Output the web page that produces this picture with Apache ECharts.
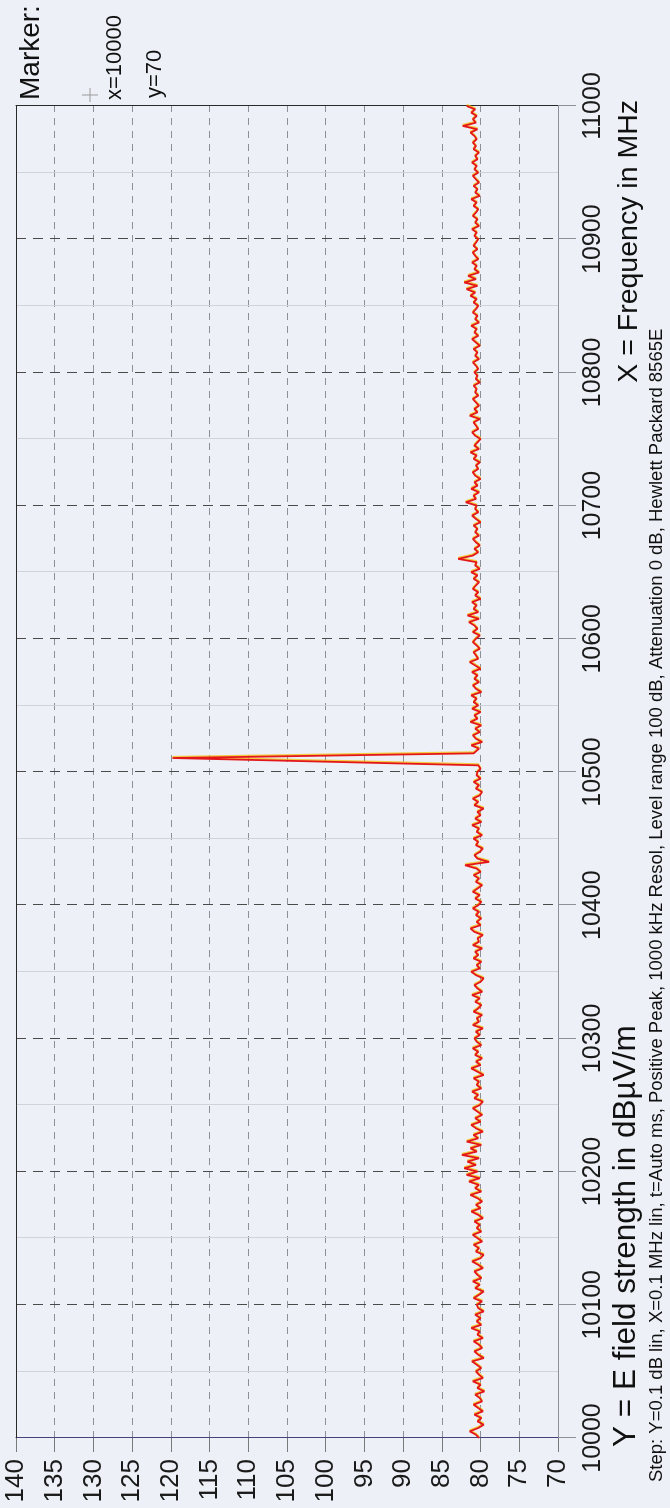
<!DOCTYPE html>
<html>
<head>
<meta charset="utf-8">
<script src="https://cdn.jsdelivr.net/npm/echarts/dist/echarts.min.js"></script>
<style>
  html, body { margin: 0; padding: 0; background: #edf0f6; overflow: hidden; }
  #page { position: absolute; left: 0; top: 0; width: 670px; height: 1508px; overflow: hidden; background: #edf0f6; }
  /* the plot is laid out landscape (1508 x 670) and turned a quarter turn anticlockwise */
  #chart { position: absolute; left: 0; top: 0; width: 1508px; height: 670px;
           transform-origin: 0 0; transform: translate(0, 1508px) rotate(-90deg); }
</style>
</head>
<body>
<div id="page"><div id="chart"></div></div>
<script>
// Sweep settings (MHz)
const sweepStart = 10000;
const sweepStep = 2.5;

// Field strength per sweep point, dBµV/m (one row per 50 MHz)
const levelDb = [
  80.2, 80.6, 81.4, 80.3, 79.6, 80.4, 79.9, 80.8, 79.7, 80.3, 80.9, 79.8, 80.1, 80.7, 79.5, 80.4, 80.0, 81.0, 79.7, 80.2,
  80.6, 79.9, 80.5, 81.1, 79.6, 80.3, 80.8, 79.8, 80.2, 80.9, 79.7, 80.4, 80.1, 81.2, 79.9, 80.5, 80.0, 80.7, 79.6, 80.3,
  80.5, 79.8, 80.9, 80.2, 79.6, 80.7, 80.1, 81.0, 79.9, 80.4, 80.8, 79.7, 80.3, 81.1, 80.0, 79.6, 80.6, 80.2, 80.9, 79.8,
  80.4, 81.0, 79.9, 80.5, 80.1, 80.8, 79.7, 80.3, 81.2, 80.0, 80.6, 79.8, 80.4, 81.3, 79.9, 80.7, 80.2, 81.5, 80.1, 81.8,
  80.4, 82.1, 80.6, 81.7, 80.2, 82.4, 80.5, 81.3, 79.9, 81.8, 80.3, 80.9, 79.7, 80.6, 81.2, 80.0, 80.7, 79.8, 80.4, 81.0,
  80.1, 79.7, 80.8, 80.3, 81.1, 79.9, 80.5, 80.2, 80.9, 79.6, 80.4, 81.2, 80.0, 80.6, 79.8, 80.7, 80.3, 81.0, 79.9, 80.5,
  80.8, 80.1, 80.6, 79.7, 81.0, 80.2, 80.5, 79.8, 80.9, 80.3, 79.9, 80.7, 80.1, 81.1, 79.8, 80.4, 80.8, 80.0, 79.6, 80.6,
  81.2, 80.1, 80.5, 79.9, 80.9, 80.3, 80.7, 79.8, 81.0, 80.2, 80.4, 79.7, 80.8, 81.3, 80.0, 80.5, 79.9, 80.6, 80.2, 81.0,
  80.3, 79.9, 80.7, 80.1, 81.0, 80.4, 79.8, 80.6, 80.2, 80.9, 80.0, 80.5, 82.0, 78.9, 80.4, 80.8, 80.1, 79.7, 80.6, 80.3,
  80.9, 79.8, 80.5, 80.2, 81.1, 79.9, 80.7, 80.0, 80.4, 79.6, 80.8, 80.3, 81.0, 80.1, 79.8, 80.6, 80.2, 80.9, 80.0, 80.5,
  80.4, 80.0, 80.3, null, null, null, 80.9, 80.2, 81.2, 79.8, 80.6, 81.0, 80.1, 80.7, 79.9, 81.3, 80.4, 80.8, 80.0, 81.1,
  80.3, 80.9, 80.5, 81.2, 79.9, 80.6, 81.0, 80.2, 80.8, 80.4, 81.1, 80.0, 80.7, 81.4, 80.3, 80.6, 80.9, 80.1, 80.5, 81.0,
  80.6, 80.1, 81.0, 80.4, 80.8, 81.5, 80.2, 81.7, 80.3, 80.9, 80.5, 81.1, 80.0, 80.7, 80.3, 81.0, 80.6, 80.2, 80.9, 80.4,
  81.2, 80.1, 80.7, 80.5, 82.9, 81.0, 80.3, 80.8, 80.1, 80.6, 81.0, 80.2, 80.7, 80.4, 80.9, 80.0, 80.6, 81.1, 80.3, 80.7,
  80.5, 81.9, 80.6, 80.9, 80.2, 81.2, 80.4, 80.8, 80.0, 80.7, 81.0, 80.3, 80.6, 80.1, 80.9, 80.5, 81.3, 80.2, 80.8, 80.4,
  80.0, 80.7, 81.1, 80.3, 80.6, 80.9, 80.1, 81.4, 80.4, 80.8, 80.2, 80.6, 81.0, 80.3, 80.7, 80.5, 80.9, 80.1, 80.6, 80.4,
  80.8, 80.3, 80.6, 81.0, 80.2, 80.7, 80.4, 80.9, 80.1, 80.6, 81.1, 80.3, 80.8, 80.5, 81.2, 80.2, 80.7, 80.4, 81.0, 80.6,
  80.3, 80.9, 80.5, 81.3, 80.7, 81.8, 80.4, 82.1, 80.6, 81.6, 80.2, 80.8, 80.5, 81.1, 80.3, 80.7, 81.0, 80.4, 80.9, 80.6,
  80.3, 80.8, 80.5, 81.1, 80.2, 80.7, 80.4, 81.0, 80.6, 80.3, 80.9, 80.5, 81.2, 80.1, 80.7, 80.4, 80.9, 80.2, 80.6, 81.0,
  80.3, 80.8, 80.5, 81.1, 80.4, 80.7, 80.2, 80.9, 80.6, 81.0, 80.5, 80.8, 81.3, 80.4, 82.3, 80.6, 81.0, 80.5, 81.2, 80.7,
  81.8
];

// Carrier found near 10.51 GHz
const peakFreqMHz = [10506.5, 10510.5, 10514.0];
const peakLevelDb = [80.2, 119.8, 80.9];

// Axis ticks
const freqTicks = [10000, 10100, 10200, 10300, 10400, 10500, 10600, 10700, 10800, 10900, 11000];
const levelTicks = [70, 75, 80, 85, 90, 95, 100, 105, 110, 115, 120, 125, 130, 135, 140];

// Marker read-out and captions
const markerLines = ['Marker:', 'x=10000', 'y=70'];
const yCaption = 'Y = E field strength in dBµV/m';
const xCaption = 'X = Frequency in MHz';
const stepCaption = 'Step: Y=0.1 dB lin, X=0.1 MHz lin, t=Auto ms, Positive Peak, 1000 kHz Resol, Level range 100 dB, Attenuation 0 dB, Hewlett Packard 8565E';

// Build the trace as [frequency, level] pairs
const trace = [];
levelDb.forEach((v, i) => { if (v !== null) trace.push([sweepStart + i * sweepStep, v]); });
peakFreqMHz.forEach((f, i) => trace.push([f, peakLevelDb[i]]));
trace.sort((a, b) => a[0] - b[0]);

const FONT = '"Liberation Sans", Arial, Helvetica, sans-serif';
const fMin = freqTicks[0], fMax = freqTicks[freqTicks.length - 1];
const lMin = levelTicks[0], lMax = levelTicks[levelTicks.length - 1];
const plain = v => String(v);

const chart = echarts.init(document.getElementById('chart'), null, { renderer: 'canvas' });

function caption(text, x, y, size, align) {
  return { type: 'text', x: x, y: y, style: { text: text, fontSize: size, fontFamily: FONT, fill: '#111',
    textAlign: align, align: align, textVerticalAlign: 'middle', verticalAlign: 'middle' } };
}

chart.setOption({
  animation: false,
  backgroundColor: '#edf0f6',
  grid: { left: 70, right: 106, top: 16, bottom: 112, containLabel: false, outerBoundsMode: 'none' },
  xAxis: [
    {
      type: 'value', position: 'bottom', min: fMin, max: fMax, interval: 100,
      axisLine: { show: true, onZero: false, lineStyle: { color: '#8d909a', width: 1 } },
      axisTick: { show: true, length: 18, lineStyle: { color: '#8d909a' } },
      minorTick: { show: false, splitNumber: 2 },
      axisLabel: { show: true, margin: 23, fontSize: 25, fontFamily: FONT, color: '#1a1a1a',
                   formatter: plain, showMinLabel: true, showMaxLabel: true },
      splitLine: { show: true, lineStyle: { color: '#4a4a4a', width: 1, type: [10, 7] } },
      minorSplitLine: { show: true, lineStyle: { color: '#cfd3dc', width: 1 } }
    },
    {
      type: 'value', position: 'top', min: fMin, max: fMax,
      axisLine: { show: true, onZero: false, lineStyle: { color: '#2a2a2a', width: 1 } },
      axisTick: { show: false }, axisLabel: { show: false }, splitLine: { show: false }
    }
  ],
  yAxis: [
    {
      type: 'value', position: 'left', min: lMin, max: lMax, interval: 5,
      axisLine: { show: true, onZero: false, lineStyle: { color: '#45447a', width: 1 } },
      axisTick: { show: true, length: 14, lineStyle: { color: '#7a7a7a' } },
      axisLabel: { show: true, margin: 21, fontSize: 26, fontFamily: FONT, color: '#1a1a1a',
                   formatter: plain, showMinLabel: true, showMaxLabel: true },
      splitLine: { show: true, lineStyle: { color: '#8e9098', width: 1, type: [7, 6] } }
    },
    {
      type: 'value', position: 'right', min: lMin, max: lMax,
      axisLine: { show: true, onZero: false, lineStyle: { color: '#2a2a2a', width: 1 } },
      axisTick: { show: false }, axisLabel: { show: false }, splitLine: { show: false }
    }
  ],
  series: [
    {
      type: 'line', xAxisIndex: 0, yAxisIndex: 0,
      data: trace, showSymbol: false, symbol: 'none', smooth: false,
      lineStyle: { color: '#e3161b', width: 1.8, shadowColor: 'rgba(245,190,0,0.75)', shadowBlur: 0, shadowOffsetX: 1.2 },
      z: 5
    }
  ],
  graphic: [
    caption(markerLines[0], 1408, 31, 28, 'left'),
    caption(markerLines[1], 1408, 115, 22, 'left'),
    caption(markerLines[2], 1410, 155, 22, 'left'),
    // small crosshair beside the marker read-out
    { type: 'line', shape: { x1: 1406, y1: 90, x2: 1420, y2: 90 }, style: { stroke: '#9a9a9a', lineWidth: 1 } },
    { type: 'line', shape: { x1: 1413, y1: 82, x2: 1413, y2: 98 }, style: { stroke: '#9a9a9a', lineWidth: 1 } },
    caption(yCaption, 61, 626, 31.5, 'left'),
    caption(xCaption, 1408, 629, 28.5, 'right'),
    caption(stepCaption, 26, 657, 18.5, 'left')
  ]
});
</script>
</body>
</html>
